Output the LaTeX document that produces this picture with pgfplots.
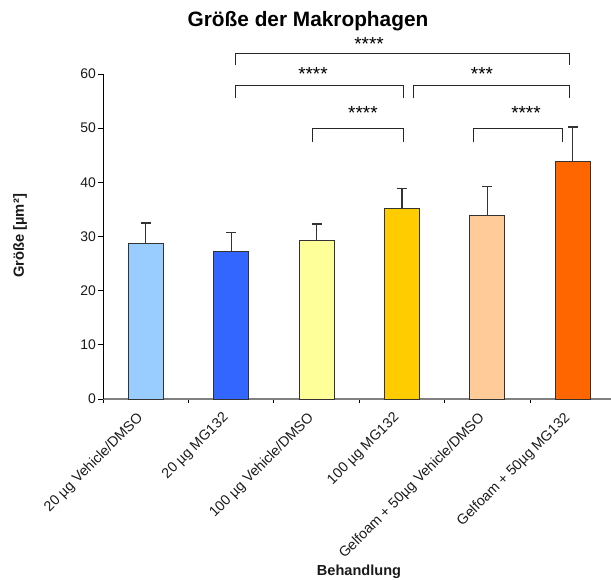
\documentclass[border=0pt]{standalone}
\usepackage{pgfplots}
\pgfplotsset{compat=1.18}
\usepackage{fontspec}
\setmainfont{Liberation Sans}
\definecolor{c1}{HTML}{99CCFF}
\definecolor{c2}{HTML}{3366FF}
\definecolor{c3}{HTML}{FFFF99}
\definecolor{c4}{HTML}{FFCC00}
\definecolor{c5}{HTML}{FFCC99}
\definecolor{c6}{HTML}{FF6600}
\definecolor{axgray}{HTML}{808080}
\definecolor{txt}{HTML}{1A1A1A}
\begin{document}
\begin{tikzpicture}
\useasboundingbox (0,0) rectangle (611bp,580bp);
\begin{axis}[
  at={(103bp,181bp)}, anchor=south west,
  scale only axis, width=512.4bp, height=325bp,
  xmin=-0.5, xmax=5.5, ymin=0, ymax=60,
  clip=false,
  /pgf/number format/assume math mode=true,
  ybar, bar width=35bp, bar shift=0pt,
  axis x line*=bottom, axis y line*=left,
  x axis line style={draw=axgray, line width=1.2bp, -},
  y axis line style={draw=black, line width=0.8bp, -},
  tick align=outside,
  xtick={0,...,5},
  xticklabels={20 µg Vehicle/DMSO, 20 µg MG132, 100 µg Vehicle/DMSO, 100 µg MG132, Gelfoam + 50µg Vehicle/DMSO, Gelfoam + 50µg MG132},
  major x tick style={draw=none},
  minor xtick={-0.5,0.5,...,5.5},
  minor x tick style={draw=black, line width=0.8bp},
  minor tick length=4bp,
  ytick={0,10,...,60},
  y tick style={draw=black, line width=0.8bp},
  major tick length=5bp,
  xticklabel style={xshift=-4bp, yshift=-11bp, rotate=45, anchor=east, inner sep=1bp, font=\fontsize{14.3}{15}\selectfont, text=txt},
  yticklabel style={font=\fontsize{14}{15}\selectfont, text=txt, inner sep=2bp},
  error bars/y dir=plus, error bars/y explicit,
  error bars/error bar style={draw=black!80, line width=1.2bp},
  error bars/error mark options={rotate=90, mark size=5bp, line width=1.2bp, draw=black!80},
]
\addplot[fill=c1, draw=black!80, line width=1bp] coordinates {(0,28.8) +- (0,3.7)};
\addplot[fill=c2, draw=black!80, line width=1bp] coordinates {(1,27.2) +- (0,3.5)};
\addplot[fill=c3, draw=black!80, line width=1bp] coordinates {(2,29.3) +- (0,3.0)};
\addplot[fill=c4, draw=black!80, line width=1bp] coordinates {(3,35.1) +- (0,3.7)};
\addplot[fill=c5, draw=black!80, line width=1bp] coordinates {(4,33.9) +- (0,5.4)};
\addplot[fill=c6, draw=black!80, line width=1bp] coordinates {(5,43.9) +- (0,6.3)};
% significance brackets
\draw[line width=1bp, black!85] (axis cs:1.057,61.6) |- (axis cs:4.968,63.8) -- (axis cs:4.968,61.6);
\draw[line width=1bp, black!85] (axis cs:1.057,55.5) |- (axis cs:3.013,57.8) -- (axis cs:3.013,55.5);
\draw[line width=1bp, black!85] (axis cs:3.130,55.5) |- (axis cs:4.968,57.8) -- (axis cs:4.968,55.5);
\draw[line width=1bp, black!85] (axis cs:1.959,47.4) |- (axis cs:3.013,49.9) -- (axis cs:3.013,47.4);
\draw[line width=1bp, black!85] (axis cs:3.844,47.4) |- (axis cs:4.886,49.9) -- (axis cs:4.886,47.4);
\node[anchor=north, inner sep=0pt, font=\fontsize{19}{19}\selectfont] at (axis cs:2.615,66.7) {****};
\node[anchor=north, inner sep=0pt, font=\fontsize{19}{19}\selectfont] at (axis cs:1.959,61.3) {****};
\node[anchor=north, inner sep=0pt, font=\fontsize{19}{19}\selectfont] at (axis cs:3.938,61.3) {***};
\node[anchor=north, inner sep=0pt, font=\fontsize{19}{19}\selectfont] at (axis cs:2.544,54.1) {****};
\node[anchor=north, inner sep=0pt, font=\fontsize{19}{19}\selectfont] at (axis cs:4.453,54.1) {****};
\end{axis}
\node[font=\fontsize{20.9}{22}\selectfont\bfseries] at (308bp,559bp) {Größe der Makrophagen};
\node[rotate=90, font=\fontsize{14.8}{16}\selectfont\bfseries, text=txt] at (20bp,344bp) {Größe [µm²]};
\node[font=\fontsize{14.6}{16}\selectfont\bfseries, text=txt] at (359bp,8bp) {Behandlung};
\end{tikzpicture}
\end{document}
